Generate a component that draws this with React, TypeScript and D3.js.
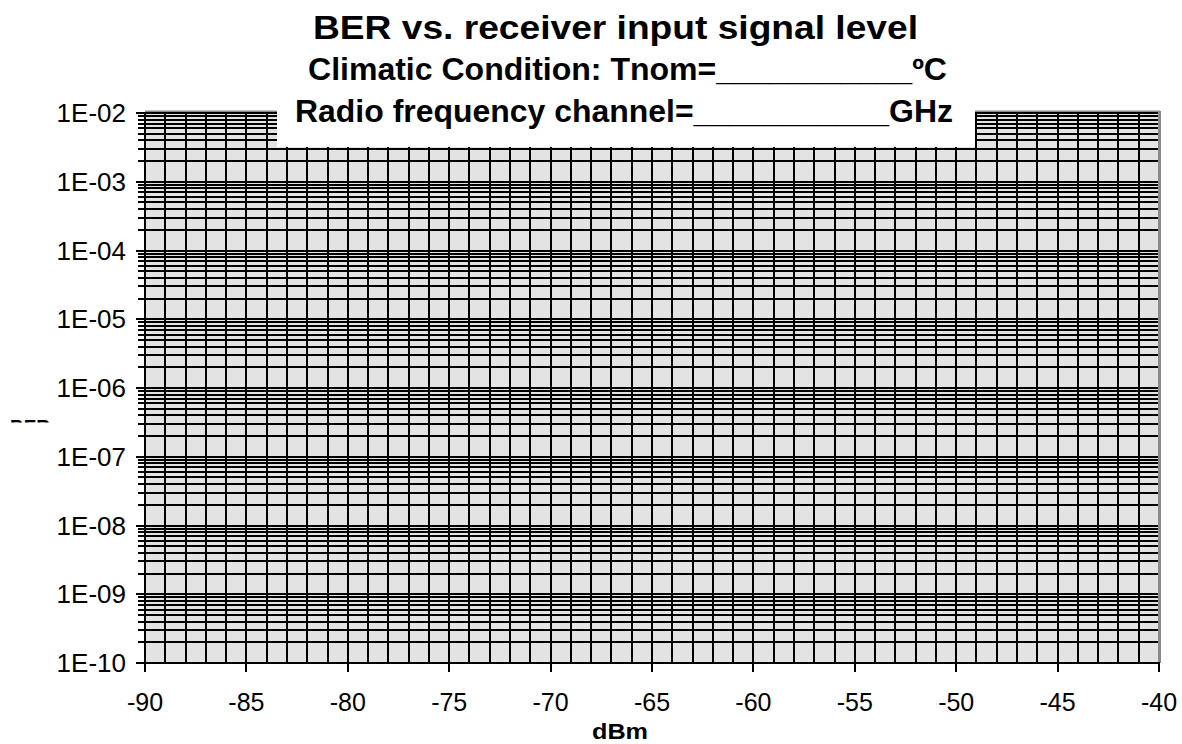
import React from "react";
import * as d3 from "d3";

const W = 1182;
const H = 744;

const titleText = "BER vs. receiver input signal level";
const subtitle1 = "Climatic Condition: Tnom=___________ºC";
const subtitle2 = "Radio frequency channel=___________GHz";
const xAxisTitle = "dBm";
const yAxisTitle = "BER";

const xDomain = [-90, -40];
const yDomain = [1e-10, 1e-2];
const xMajorTicks = [-90, -85, -80, -75, -70, -65, -60, -55, -50, -45, -40];
const yMajorTicks = [1e-2, 1e-3, 1e-4, 1e-5, 1e-6, 1e-7, 1e-8, 1e-9, 1e-10];
const yTickLabels = ["1E-02", "1E-03", "1E-04", "1E-05", "1E-06", "1E-07", "1E-08", "1E-09", "1E-10"];

const FONT = "'Liberation Sans', Arial, Helvetica, sans-serif";

export default function App() {
  const left = 145;
  const right = 1159;
  const top = 113;
  const bottom = 663;

  const x = d3.scaleLinear().domain(xDomain).range([left, right]);
  const y = d3.scaleLog().domain(yDomain).range([bottom, top]);
  const px = (v: number) => Math.round(x(v));
  const py = (v: number) => Math.round(y(v));

  const xMinor = x.ticks(50).filter((v) => v > xDomain[0] && v < xDomain[1]);
  const yMinor = y.ticks();

  return (
    <svg
      width={W}
      height={H}
      style={{ position: "absolute", left: 0, top: 0, background: "#fff" }}
      fontFamily={FONT}
    >
      <defs>
        <clipPath id="berclip">
          <rect x={0} y={419} width={60} height={3.5} />
        </clipPath>
      </defs>
      {/* plot background */}
      <rect x={left} y={top - 2} width={right - left} height={bottom - top + 2} fill="#e3e3e3" />
      {/* top and right border */}
      <line x1={left} x2={right + 1} y1={111.5} y2={111.5} stroke="#8a8a8a" strokeWidth={2} />
      <line x1={right + 0.5} x2={right + 0.5} y1={111} y2={bottom} stroke="#8a8a8a" strokeWidth={3} />

      {/* horizontal gridlines */}
      {yMinor.map((v, i) => (
        <line
          key={"h" + i}
          x1={138}
          x2={right - 1}
          y1={py(v)}
          y2={py(v)}
          stroke="#000"
          strokeWidth={2}
        />
      ))}
      {/* vertical gridlines */}
      {xMinor.map((v, i) => (
        <line
          key={"v" + i}
          x1={px(v)}
          x2={px(v)}
          y1={top}
          y2={bottom}
          stroke="#000"
          strokeWidth={2}
        />
      ))}

      {/* y axis */}
      <line x1={left} x2={left} y1={top} y2={bottom + 1} stroke="#000" strokeWidth={2} />
      {yMajorTicks.map((v, i) => (
        <g key={"yt" + i}>
          <line x1={136} x2={left} y1={py(v)} y2={py(v)} stroke="#000" strokeWidth={2} />
          <text x={126} y={y(v) + 9} textAnchor="end" fontSize={26} fill="#000">
            {yTickLabels[i]}
          </text>
        </g>
      ))}

      {/* x axis */}
      <line x1={left - 1} x2={right + 1} y1={bottom} y2={bottom} stroke="#000" strokeWidth={2} />
      {xMajorTicks.map((v, i) => (
        <g key={"xt" + i}>
          <line x1={px(v)} x2={px(v)} y1={bottom} y2={bottom + 9} stroke="#000" strokeWidth={2} />
          <text x={x(v)} y={711} textAnchor="middle" fontSize={25} fill="#000">
            {v}
          </text>
        </g>
      ))}
      <text
        x={592}
        y={739}
        fontSize={22}
        fontWeight="bold"
        textLength={56}
        lengthAdjust="spacingAndGlyphs"
        fill="#000"
      >
        {xAxisTitle}
      </text>

      {/* clipped y axis title */}
      <g clipPath="url(#berclip)">
        <text x={10} y={435} fontSize={22} fontWeight="bold" textLength={40} lengthAdjust="spacingAndGlyphs" fill="#000">
          {yAxisTitle}
        </text>
      </g>

      {/* title box */}
      <rect x={277} y={0} width={698} height={147} fill="#fff" />
      <text
        x={313}
        y={39}
        fontSize={34}
        fontWeight="bold"
        textLength={605}
        lengthAdjust="spacingAndGlyphs"
        fill="#000"
      >
        {titleText}
      </text>
      <text
        x={308}
        y={80}
        fontSize={31}
        fontWeight="bold"
        textLength={639}
        lengthAdjust="spacingAndGlyphs"
        fill="#000"
      >
        {subtitle1}
      </text>
      <text
        x={295}
        y={122}
        fontSize={31}
        fontWeight="bold"
        textLength={658}
        lengthAdjust="spacingAndGlyphs"
        fill="#000"
      >
        {subtitle2}
      </text>
    </svg>
  );
}
